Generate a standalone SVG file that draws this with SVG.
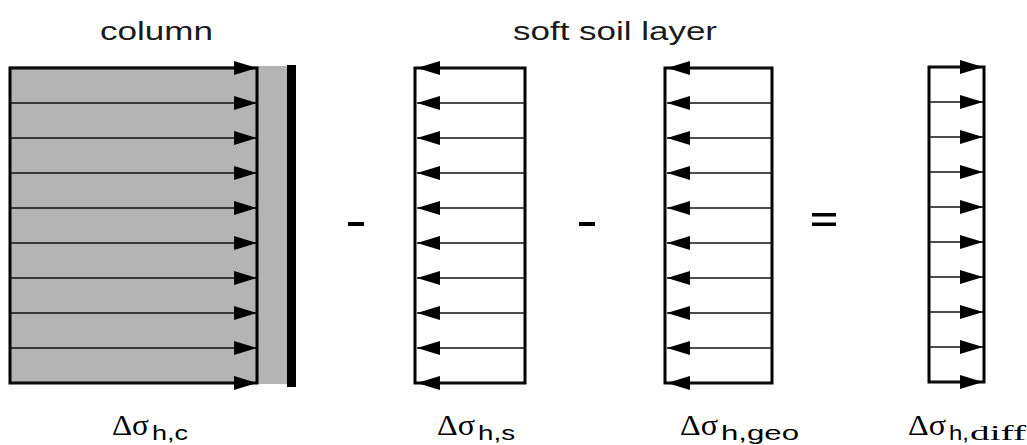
<svg xmlns="http://www.w3.org/2000/svg" width="1027" height="445" viewBox="0 0 1027 445">
  <defs>
    <style>
      .box { fill: none; stroke: #000; stroke-width: 3; }
      .arrow { stroke: #111; stroke-width: 1.6; marker-end: url(#head); }
      .title { font-family: "Liberation Sans", Arial, sans-serif; font-size: 25px; fill: #1a1a1a; }
      .sym { font-family: "Liberation Serif", "Times New Roman", serif; font-size: 29px; fill: #000; }
      .sub { font-family: "Liberation Sans", Arial, sans-serif; font-size: 21px; fill: #000; }
      .subserif { font-family: "Liberation Serif", "Times New Roman", serif; font-size: 21px; fill: #000; }
      .op { fill: #000; }
    </style>
    <marker id="head" markerUnits="userSpaceOnUse" markerWidth="24" markerHeight="14" refX="23" refY="7" orient="auto">
      <path d="M0,0 L23,7 L0,14 Z" fill="#000"/>
    </marker>
  </defs>

  <rect width="1027" height="445" fill="#fff"/>

  <!-- headings -->
  <text class="title" x="100" y="40" textLength="113" lengthAdjust="spacingAndGlyphs">column</text>
  <text class="title" x="513" y="40" textLength="204" lengthAdjust="spacingAndGlyphs">soft soil layer</text>

  <!-- column: grey body with rigid wall -->
  <g id="column">
    <rect x="10" y="66" width="280" height="318" fill="#b4b4b4"/>
    <rect class="box" x="10" y="68" width="247" height="315"/>
    <rect x="287" y="65" width="9" height="322" fill="#000"/>
  </g>

  <!-- soft soil, first stress block -->
  <g id="soil-s">
    <rect class="box" x="415" y="68" width="110" height="315"/>
  </g>

  <!-- soft soil, geosynthetic block -->
  <g id="soil-geo">
    <rect class="box" x="665" y="68" width="107" height="315"/>
  </g>

  <!-- difference block -->
  <g id="diff">
    <rect class="box" x="929" y="67" width="55" height="315"/>
  </g>

  <!-- operators -->
  <g id="operators">
    <rect class="op" x="348" y="222" width="16" height="4"/>
    <rect class="op" x="579" y="222" width="16" height="4"/>
    <rect class="op" x="812" y="213" width="24" height="3.5"/>
    <rect class="op" x="812" y="222.5" width="24" height="3.5"/>
  </g>

  <!-- stress arrows -->
  <g id="connectors">
    <!-- column: pointing right -->
    <line class="arrow" x1="10" y1="68" x2="257" y2="68"/>
    <line class="arrow" x1="10" y1="103" x2="257" y2="103"/>
    <line class="arrow" x1="10" y1="138" x2="257" y2="138"/>
    <line class="arrow" x1="10" y1="173" x2="257" y2="173"/>
    <line class="arrow" x1="10" y1="208" x2="257" y2="208"/>
    <line class="arrow" x1="10" y1="243" x2="257" y2="243"/>
    <line class="arrow" x1="10" y1="278" x2="257" y2="278"/>
    <line class="arrow" x1="10" y1="313" x2="257" y2="313"/>
    <line class="arrow" x1="10" y1="348" x2="257" y2="348"/>
    <line class="arrow" x1="10" y1="383" x2="257" y2="383"/>
    <!-- soil s: pointing left -->
    <line class="arrow" x1="525" y1="68" x2="417" y2="68"/>
    <line class="arrow" x1="525" y1="103" x2="417" y2="103"/>
    <line class="arrow" x1="525" y1="138" x2="417" y2="138"/>
    <line class="arrow" x1="525" y1="173" x2="417" y2="173"/>
    <line class="arrow" x1="525" y1="208" x2="417" y2="208"/>
    <line class="arrow" x1="525" y1="243" x2="417" y2="243"/>
    <line class="arrow" x1="525" y1="278" x2="417" y2="278"/>
    <line class="arrow" x1="525" y1="313" x2="417" y2="313"/>
    <line class="arrow" x1="525" y1="348" x2="417" y2="348"/>
    <line class="arrow" x1="525" y1="383" x2="417" y2="383"/>
    <!-- soil geo: pointing left -->
    <line class="arrow" x1="772" y1="68" x2="667" y2="68"/>
    <line class="arrow" x1="772" y1="103" x2="667" y2="103"/>
    <line class="arrow" x1="772" y1="138" x2="667" y2="138"/>
    <line class="arrow" x1="772" y1="173" x2="667" y2="173"/>
    <line class="arrow" x1="772" y1="208" x2="667" y2="208"/>
    <line class="arrow" x1="772" y1="243" x2="667" y2="243"/>
    <line class="arrow" x1="772" y1="278" x2="667" y2="278"/>
    <line class="arrow" x1="772" y1="313" x2="667" y2="313"/>
    <line class="arrow" x1="772" y1="348" x2="667" y2="348"/>
    <line class="arrow" x1="772" y1="383" x2="667" y2="383"/>
    <!-- difference: pointing right -->
    <line class="arrow" x1="929" y1="67" x2="983" y2="67"/>
    <line class="arrow" x1="929" y1="102" x2="983" y2="102"/>
    <line class="arrow" x1="929" y1="137" x2="983" y2="137"/>
    <line class="arrow" x1="929" y1="172" x2="983" y2="172"/>
    <line class="arrow" x1="929" y1="207" x2="983" y2="207"/>
    <line class="arrow" x1="929" y1="242" x2="983" y2="242"/>
    <line class="arrow" x1="929" y1="277" x2="983" y2="277"/>
    <line class="arrow" x1="929" y1="312" x2="983" y2="312"/>
    <line class="arrow" x1="929" y1="347" x2="983" y2="347"/>
    <line class="arrow" x1="929" y1="382" x2="983" y2="382"/>
  </g>

  <!-- stress labels -->
  <g id="labels">
    <text class="sym" x="112" y="435" textLength="37" lengthAdjust="spacingAndGlyphs">Δσ</text>
    <text class="sub" x="152" y="440" textLength="36" lengthAdjust="spacingAndGlyphs">h,c</text>

    <text class="sym" x="437" y="435" textLength="38" lengthAdjust="spacingAndGlyphs">Δσ</text>
    <text class="sub" x="478" y="440" textLength="37" lengthAdjust="spacingAndGlyphs">h,s</text>

    <text class="sym" x="680" y="435" textLength="38" lengthAdjust="spacingAndGlyphs">Δσ</text>
    <text class="sub" x="721" y="440" textLength="78" lengthAdjust="spacingAndGlyphs">h,geo</text>

    <text class="sym" x="908" y="435" textLength="38" lengthAdjust="spacingAndGlyphs">Δσ</text>
    <text class="sub" x="949" y="440" textLength="20" lengthAdjust="spacingAndGlyphs">h,</text>
    <text class="subserif" x="970" y="440" textLength="56" lengthAdjust="spacingAndGlyphs">diff</text>
  </g>
</svg>
